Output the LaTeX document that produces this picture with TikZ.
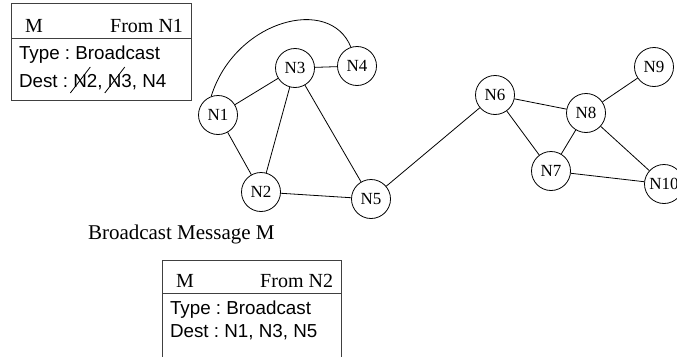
\documentclass[tikz,border=0pt]{standalone}
\usepackage{fontspec}
\setmainfont{Liberation Serif}
\newfontfamily\arialfont{Liberation Sans}
\usetikzlibrary{calc}
\frenchspacing

\begin{document}
\begin{tikzpicture}[x=1pt,y=-1pt,
  vertex/.style={circle,draw,line width=0.8pt,minimum size=39pt,inner sep=0pt,
    font=\fontsize{17}{18}\selectfont},
  link/.style={line width=0.8pt},
  msgframe/.style={draw=black!75,line width=1pt},
  hdr/.style={inner sep=0pt,outer sep=0pt,font=\fontsize{20}{21}\selectfont},
  body/.style={inner sep=0pt,outer sep=0pt,font=\arialfont\fontsize{18.8}{20}\selectfont},
  caption/.style={inner sep=0pt,outer sep=0pt,font=\fontsize{21}{22}\selectfont},
  strike/.style={line width=0.8pt}]
\useasboundingbox (0,0) rectangle (677,356);

% message received from N1
\draw[msgframe] (11,3) rectangle (191,100);
\draw[msgframe] (11,38) -- (191,38);
\node[hdr,anchor=base west] (m1) at (25,32) {M};
\node[hdr,anchor=base east] (f1) at (183,32) {From N1};
\node[body,anchor=base west] (t1) at (19,59) {Type : Broadcast};
\node[body,anchor=base west] (d1) at (19,87) {Dest :\ \mbox{}};
\node[body,anchor=base west] (d2) at (d1.base east) {N2};
\node[body,anchor=base west] (d3) at (d2.base east) {,\ \mbox{}};
\node[body,anchor=base west] (d4) at (d3.base east) {N3};
\node[body,anchor=base west] (d5) at (d4.base east) {, N4};
\draw[strike] ($(d2.base west)+(-3,6)$) -- ($(d2.base west)+(17,-20)$);
\draw[strike] ($(d4.base west)+(-3,6)$) -- ($(d4.base west)+(17,-20)$);

% network
\node[vertex] (N1) at (218,115) {N1};
\node[vertex] (N2) at (261,192) {N2};
\node[vertex] (N3) at (295,68) {N3};
\node[vertex] (N4) at (357,66) {N4};
\node[vertex] (N5) at (371,199) {N5};
\node[vertex] (N6) at (495,95) {N6};
\node[vertex] (N7) at (551,171) {N7};
\node[vertex] (N8) at (586,113) {N8};
\node[vertex] (N9) at (654,67) {N9};
\node[vertex] (N10) at (664,184) {N10};

\draw[link] (N1) -- (N3);
\draw[link] (N1) -- (N2);
\draw[link] (N2) -- (N3);
\draw[link] (N3) -- (N4);
\draw[link] (N3) -- (N5);
\draw[link] (N2) -- (N5);
\draw[link] (N5) -- (N6);
\draw[link] (N6) -- (N8);
\draw[link] (N6) -- (N7);
\draw[link] (N7) -- (N8);
\draw[link] (N8) -- (N9);
\draw[link] (N8) -- (N10);
\draw[link] (N7) -- (N10);
\draw[link] (N1.110) .. controls (235,20) and (330,-5) .. (N4.108);

\node[caption,anchor=base west] (cap) at (88,239) {Broadcast Message M};

% message forwarded by N2
\draw[msgframe] (162,370) -- (162,260) -- (341,260) -- (341,370);
\draw[msgframe] (162,293) -- (341,293);
\node[hdr,anchor=base west] (m2) at (176,287) {M};
\node[hdr,anchor=base east] (f2) at (333,287) {From N2};
\node[body,anchor=base west] (t2) at (170,314) {Type : Broadcast};
\node[body,anchor=base west] (d6) at (170,337) {Dest : N1, N3, N5};
\end{tikzpicture}
\end{document}
